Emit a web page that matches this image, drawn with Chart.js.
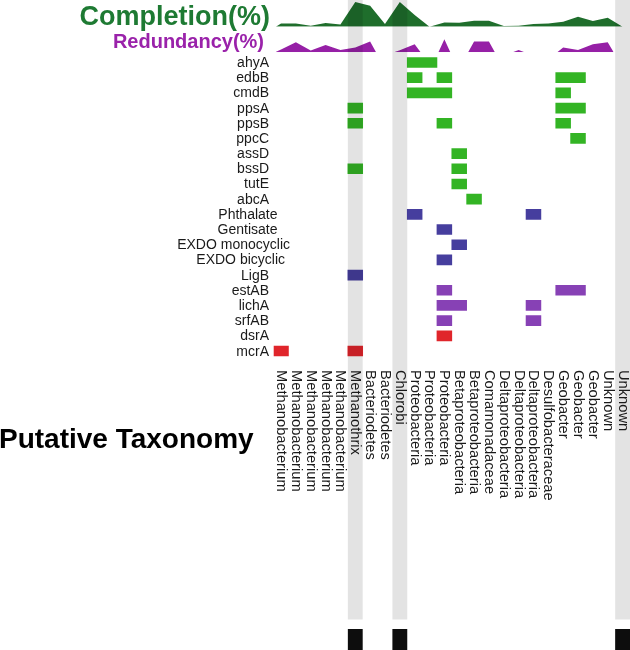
<!DOCTYPE html>
<html>
<head>
<meta charset="utf-8">
<title>Putative Taxonomy</title>
<script src="https://cdn.jsdelivr.net/npm/chart.js@4.4.1/dist/chart.umd.min.js"></script>
<style>
  body { margin: 0; background: #fff; }
  #wrap { position: relative; width: 630px; height: 650px; }
  #wrap canvas { position: absolute; left: 0; top: 0; }
</style>
</head>
<body>
<div id="wrap">
  <canvas id="completion" width="630" height="650"></canvas>
  <canvas id="redundancy" width="630" height="650"></canvas>
  <canvas id="genes" width="630" height="650"></canvas>
</div>
<script>
const taxa = [
  "Methanobacterium", "Methanobacterium", "Methanobacterium", "Methanobacterium", "Methanobacterium",
  "Methanothrix", "Bacteriodetes", "Bacteriodetes", "Chlorobi",
  "Proteobacteria", "Proteobacteria", "Proteobacteria",
  "Betaproteobacteria", "Betaproteobacteria", "Comamonadaceae",
  "Deltaproteobacteria", "Deltaproteobacteria", "Deltaproteobacteria", "Desulfobacteraceae",
  "Geobacter", "Geobacter", "Geobacter", "Unknown", "Unknown",
];
const genes = [
  "ahyA", "edbB", "cmdB", "ppsA", "ppsB", "ppcC", "assD", "bssD", "tutE", "abcA",
  "Phthalate", "Gentisate", "EXDO monocyclic", "EXDO bicyclic", "LigB",
  "estAB", "lichA", "srfAB", "dsrA", "mcrA",
];
const geneGroup = [0, 0, 0, 0, 0, 0, 0, 0, 0, 0, 1, 1, 1, 1, 1, 2, 2, 2, 3, 3];
// taxon indexes where each gene was found
const hits = [
  [9, 10], [9, 11, 19, 20], [9, 10, 11, 19], [5, 19, 20], [5, 11, 19], [20],
  [12], [5, 12], [12], [13],
  [9, 17], [11], [12], [11], [5],
  [11, 19, 20], [11, 12, 17], [11, 17],
  [11], [0, 5],
];
const completion = [13, 13, 4, 15, 9, 100, 85, 11, 100, 47, 0, 17, 16, 24, 24, 3, 4, 11, 13, 20, 40, 23, 36, 0];
const redundancy = [2.7, 10, 1.7, 7.3, 2.3, 4.7, 10.7, 0, 2.1, 8, 0, 13, 0, 10.7, 10.7, 0, 2.3, 0, 0, 4.7, 2.3, 8, 10, 0];
const highlighted = [5, 8, 23];

const groupColors = ["#33b424", "#463e9e", "#8741b5", "#e0252b"];
const FONT = '"Liberation Sans", Arial, Helvetica, sans-serif';
const PAGE_H = 650;

const xScale = { type: "linear", min: -0.5, max: taxa.length - 0.5, display: false };
const pad = (top, bottom) => ({ left: 273.6, right: 0, top: top, bottom: PAGE_H - bottom });
const quiet = {
  responsive: false,
  animation: false,
  events: [],
  plugins: { legend: { display: false }, tooltip: { enabled: false } },
};

function titlePlugin(text, font, color, dx, dy) {
  return {
    id: "sideTitle",
    afterDraw(chart) {
      const { ctx, chartArea } = chart;
      ctx.save();
      ctx.font = font;
      ctx.fillStyle = color;
      ctx.textAlign = "right";
      ctx.textBaseline = "alphabetic";
      ctx.fillText(text, chartArea.left - dx, chartArea.bottom - dy);
      ctx.restore();
    },
  };
}

// area outline: zero columns break the redundancy area into short ramps
function rampPoints(vals, ramp) {
  const pts = [];
  vals.forEach((v, i) => {
    if (!v) return;
    if (!vals[i - 1]) pts.push({ x: i - ramp, y: 0 });
    pts.push({ x: i, y: v });
    if (!vals[i + 1]) pts.push({ x: i + ramp, y: 0 });
  });
  return pts;
}

const completionPoints = [{ x: -0.35, y: 0 }].concat(completion.map((v, i) => ({ x: i, y: v })));

new Chart(document.getElementById("completion"), {
  type: "line",
  data: {
    datasets: [{
      data: completionPoints,
      fill: "origin",
      backgroundColor: "#1f6e2c",
      borderColor: "rgba(0,0,0,0)",
      borderWidth: 0,
      pointRadius: 0,
    }],
  },
  options: {
    ...quiet,
    layout: { padding: pad(2, 26.7) },
    scales: { x: xScale, y: { min: 0, max: 100, display: false } },
  },
  plugins: [titlePlugin("Completion(%)", "bold 27px " + FONT, "#1e7a33", 3.6, 1.7)],
});

new Chart(document.getElementById("redundancy"), {
  type: "line",
  data: {
    datasets: [{
      data: rampPoints(redundancy, 0.4),
      fill: "origin",
      backgroundColor: "#9620a6",
      borderColor: "rgba(0,0,0,0)",
      borderWidth: 0,
      pointRadius: 0,
    }],
  },
  options: {
    ...quiet,
    layout: { padding: pad(38.3, 52.3) },
    scales: { x: xScale, y: { min: 0, max: 14, display: false } },
  },
  plugins: [titlePlugin("Redundancy(%)", "bold 20px " + FONT, "#9a22aa", 9.6, 4)],
});

function runs(cols) {
  const out = [];
  cols.forEach((c) => {
    const last = out[out.length - 1];
    if (last && last[1] === c - 1) last[1] = c;
    else out.push([c, c]);
  });
  return out;
}

const cellSets = groupColors.map((color) => ({
  data: [],
  backgroundColor: color,
  borderWidth: 0,
  barThickness: 10,
  grouped: false,
}));
genes.forEach((gene, i) => {
  runs(hits[i]).forEach(([a, b]) => {
    cellSets[geneGroup[i]].data.push({ x: [a - 0.5, b + 0.5], y: gene });
  });
});

// some of the middle labels sit further right in the source figure
const labelNudge = { "Phthalate": 8.5, "Gentisate": 8.5, "EXDO monocyclic": 21, "EXDO bicyclic": 16 };

const decorations = {
  id: "decorations",
  afterDatasetsDraw(chart) {
    const { ctx } = chart;
    const x = chart.scales.x;
    const w = x.getPixelForValue(1) - x.getPixelForValue(0);
    ctx.save();
    highlighted.forEach((c) => {
      const left = x.getPixelForValue(c - 0.5);
      ctx.fillStyle = "rgba(0,0,0,0.11)";
      ctx.fillRect(left, 0, w, 619.5);
      ctx.fillStyle = "#0d0d0d";
      ctx.fillRect(left, 629, w, PAGE_H - 629);
    });
    ctx.restore();
  },
  afterDraw(chart) {
    const { ctx, chartArea } = chart;
    const x = chart.scales.x;
    const y = chart.scales.y;
    ctx.save();
    ctx.fillStyle = "#1a1a1a";
    ctx.font = "14px " + FONT;
    ctx.textAlign = "right";
    ctx.textBaseline = "alphabetic";
    genes.forEach((gene, i) => {
      ctx.fillText(gene, chartArea.left - 4.6 + (labelNudge[gene] || 0), y.getPixelForValue(i) + 4.5);
    });
    ctx.font = "14.7px " + FONT;
    ctx.textAlign = "left";
    ctx.textBaseline = "middle";
    taxa.forEach((name, i) => {
      ctx.save();
      ctx.translate(x.getPixelForValue(i), 370);
      ctx.rotate(Math.PI / 2);
      ctx.fillText(name, 0, 0);
      ctx.restore();
    });
    ctx.fillStyle = "#000";
    ctx.font = "bold 28px " + FONT;
    ctx.textBaseline = "alphabetic";
    ctx.fillText("Putative Taxonomy", -1, 448.3);
    ctx.restore();
  },
};

new Chart(document.getElementById("genes"), {
  type: "bar",
  data: { labels: genes, datasets: cellSets },
  options: {
    ...quiet,
    indexAxis: "y",
    layout: { padding: pad(54.9, 358.6) },
    scales: {
      x: xScale,
      y: { type: "category", labels: genes, offset: true, display: false },
    },
  },
  plugins: [decorations],
});
</script>
</body>
</html>
